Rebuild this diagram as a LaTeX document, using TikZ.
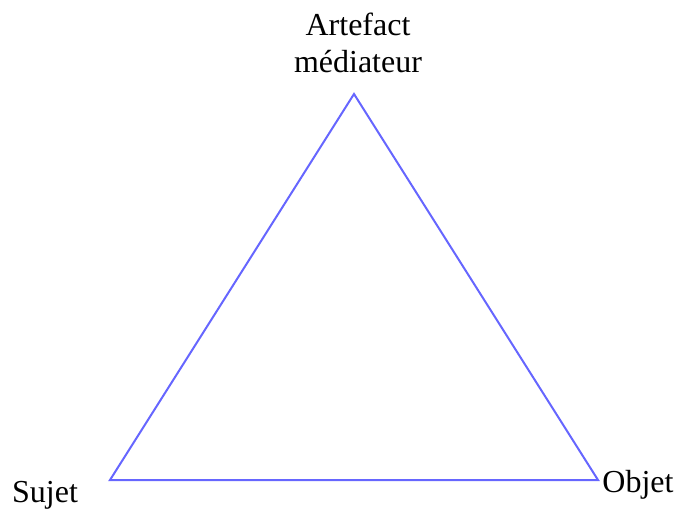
\documentclass[tikz,border=0pt]{standalone}
\usepackage{fontspec}
\setmainfont{Liberation Serif}
\usepackage{xcolor}
\usetikzlibrary{positioning}
\definecolor{trilinecol}{RGB}{102,102,255}

\begin{document}
\begin{tikzpicture}[x=1pt,y=1pt]
\tikzset{
  label text/.style={font=\fontsize{32}{37}\selectfont,inner sep=0pt,align=center},
  tri line/.style={draw=trilinecol,line width=2pt,line join=miter}
}
\useasboundingbox (0,0) rectangle (677,509);
% Triangle corners
\coordinate (artefactpt) at (354,415);
\coordinate (sujetpt) at (110,29);
\coordinate (objetpt) at (598,29);
\draw[tri line] (sujetpt) -- (artefactpt) -- (objetpt) -- cycle;

% Labels of the corners
\node[label text,anchor=base] (artefact) at (358,436) {Artefact\\médiateur};
\node[label text,anchor=base] (sujet) at (45,7) {Sujet};
\node[label text,anchor=base] (objet) at (638,17) {Objet};
\end{tikzpicture}
\end{document}
